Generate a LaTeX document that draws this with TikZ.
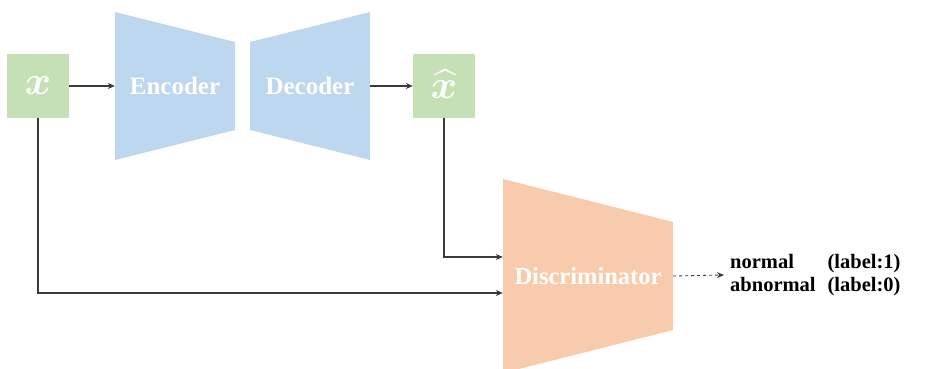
\RequirePackage{fix-cm}
\documentclass[tikz,border=0pt]{standalone}
\usepackage{fontspec}
\usepackage{amsmath,amssymb,bm}
\setmainfont{Liberation Serif}
\usetikzlibrary{arrows.meta}
\definecolor{gbox}{HTML}{C5E0B4}
\definecolor{bbox}{HTML}{BDD7EE}
\definecolor{obox}{HTML}{F8CBAD}
\definecolor{lnc}{HTML}{3A3A3A}
\tikzset{
  sq/.style={fill=gbox, minimum width=62pt, minimum height=63pt, inner sep=0pt, text=white, font=\fontsize{40}{40}\selectfont},
  blk/.style={inner sep=0pt, text=white, font=\fontsize{25}{25}\selectfont\bfseries},
  conn/.style={draw=lnc, line width=1.1pt, -{Stealth[length=7pt,width=6pt]}},
  lab/.style={inner sep=0pt, anchor=west, font=\fontsize{20.5}{23}\selectfont\bfseries}
}
\begin{document}
\begin{tikzpicture}[x=1pt,y=-1pt]
\useasboundingbox (0,0) rectangle (932,369);
\begin{scope}
\clip (0,0) rectangle (932,369);
\fill[bbox] (115,12) -- (235,42) -- (235,130) -- (115,160) -- cycle;
\fill[bbox] (250,42) -- (370,12) -- (370,160) -- (250,130) -- cycle;
\fill[obox] (503,179) -- (673,222) -- (673,330) -- (503,373) -- cycle;
\end{scope}
\node[sq] (x) at (38,86) {$\boldsymbol{x}$};
\node[sq] (xh) at (444,86) {\raisebox{4pt}{$\widehat{\boldsymbol{x}}$}};
\node[blk, minimum width=120pt, minimum height=148pt] (enc) at (175,86) {Encoder};
\node[blk, minimum width=120pt, minimum height=148pt] (dec) at (310,86) {Decoder};
\node[blk, minimum width=170pt, minimum height=150pt, font=\fontsize{24.5}{25}\selectfont\bfseries] (disc) at (588,276) {Discriminator};
\node[lab] (out) at (730,275) {\begin{tabular}{@{}l@{\hspace{12pt}}l@{}}normal & (label:1)\\ abnormal & (label:0)\end{tabular}};
\draw[conn] (x.east) -- (enc.west);
\draw[conn] (dec.east) -- (xh.west);
\draw[conn] (xh.south) |- ([yshift=19pt]disc.west);
\draw[conn] (x.south) |- ([yshift=-17pt]disc.west);
\draw[conn, dashed, line width=0.9pt] (disc.east) -- ([xshift=-6pt]out.west);
\end{tikzpicture}
\end{document}
